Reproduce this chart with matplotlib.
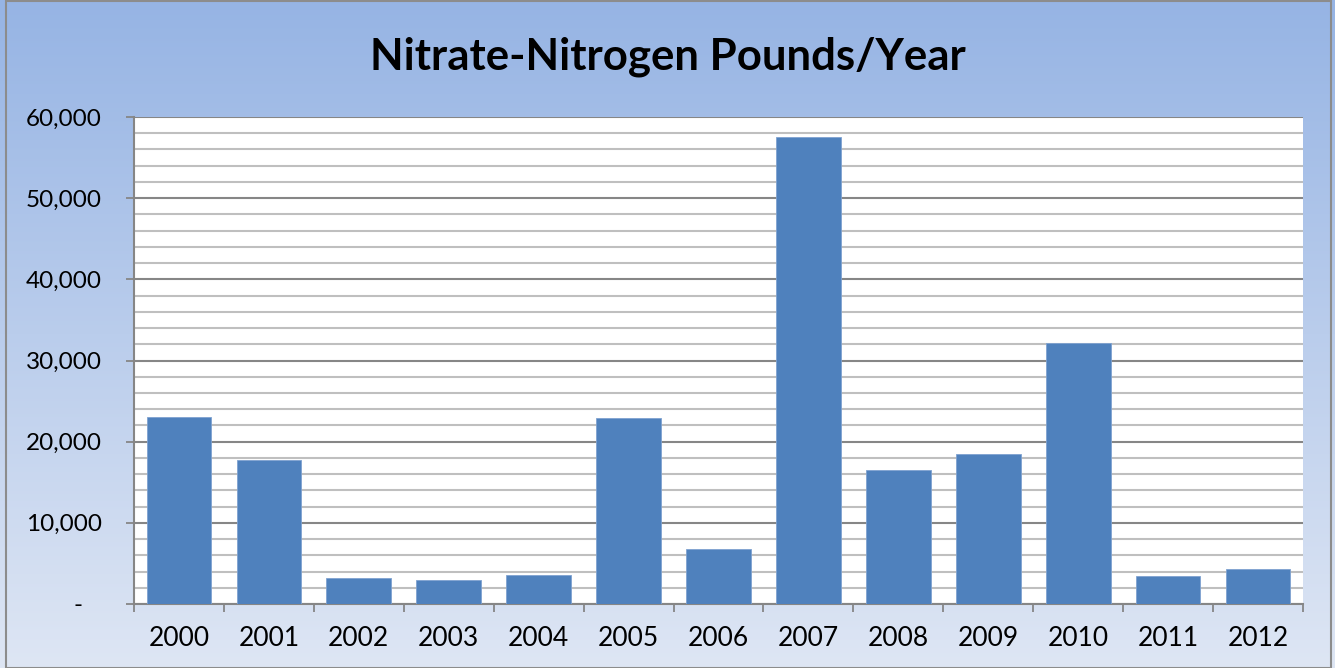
import numpy as np
import matplotlib.pyplot as plt
from matplotlib.patches import Rectangle
from matplotlib.ticker import MultipleLocator, FuncFormatter

years = ['2000', '2001', '2002', '2003', '2004', '2005', '2006',
         '2007', '2008', '2009', '2010', '2011', '2012']
pounds = [23100, 17700, 3200, 2900, 3600, 22900, 6800,
          57500, 16500, 18500, 32100, 3500, 4300]

plt.rcParams['font.family'] = ['Lato', 'DejaVu Sans']

fig = plt.figure(figsize=(13.35, 6.68), dpi=100)

# gradient background
bg = fig.add_axes([0, 0, 1, 1], zorder=0)
grad = np.linspace(0, 1, 256).reshape(-1, 1)
top = np.array([150, 180, 228]) / 255
bottom = np.array([222, 230, 244]) / 255
img = top + (bottom - top) * grad[:, :, None] * np.ones((1, 1, 3))
bg.imshow(img, aspect='auto', extent=[0, 1, 0, 1])
bg.set_xlim(0, 1)
bg.set_ylim(0, 1)
bg.axis('off')
bg.add_patch(Rectangle((0.0045, 0.0), 0.9925, 0.999, fill=False,
                       edgecolor='#8c8c8c', lw=1.5))

ax = fig.add_axes([134 / 1335, 1 - 604 / 668, (1303 - 134) / 1335, (604 - 117) / 668], zorder=1)
x = np.arange(len(years))
ax.bar(x, pounds, width=0.72, color='#4f81bd', edgecolor='#7fa2d0', lw=0.6, zorder=3)

ax.set_xlim(-0.5, len(years) - 0.5)
ax.set_ylim(0, 60000)
ax.yaxis.set_major_locator(MultipleLocator(10000))
ax.yaxis.set_minor_locator(MultipleLocator(2000))
ax.yaxis.set_major_formatter(FuncFormatter(lambda v, p: '-   ' if v == 0 else f'{int(v):,}'))
ax.grid(which='minor', axis='y', color='#bfbfbf', lw=1.5, zorder=1)
ax.grid(which='major', axis='y', color='#868686', lw=1.5, zorder=2)

ax.set_xticks(x)
ax.set_xticklabels(years)
ax.set_xticks(np.arange(-0.5, len(years)), minor=True)
ax.tick_params(axis='x', which='major', length=0, labelsize=19, pad=16)
ax.tick_params(axis='x', which='minor', length=6, color='#868686', width=1.3)
ax.tick_params(axis='y', which='major', length=6, color='#868686', width=1.3, labelsize=17.5, pad=17)
ax.tick_params(axis='y', which='minor', length=0)

for s in ['top', 'right']:
    ax.spines[s].set_visible(False)
for s in ['left', 'bottom']:
    ax.spines[s].set_color('#868686')
    ax.spines[s].set_linewidth(1.5)

fig.text(0.5, 1 - 57 / 668, 'Nitrate-Nitrogen Pounds/Year', ha='center', va='center',
         fontsize=31.5, fontweight='bold')

fig.savefig('out.png', dpi=100)
